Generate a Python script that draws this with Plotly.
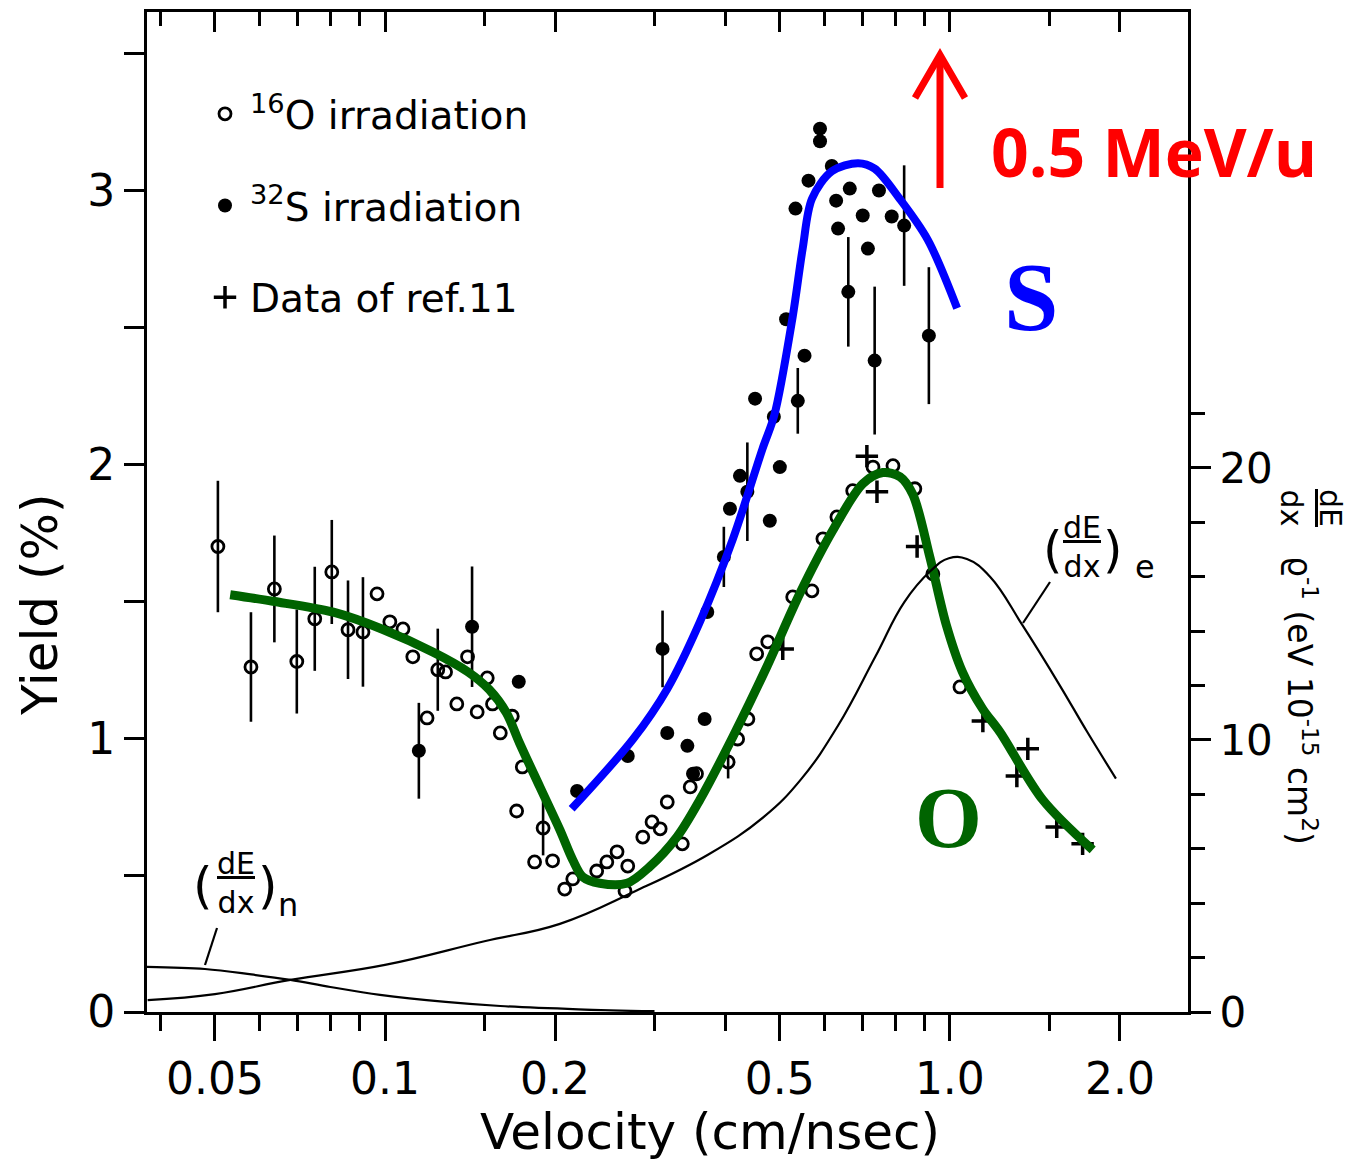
import numpy as np
import plotly.graph_objects as go

# ---------------- data ----------------
# 16O irradiation (open circles): velocity (cm/nsec), yield (%), error
o16_v = [0.0506, 0.0579, 0.0637, 0.0698, 0.0751, 0.0805, 0.086, 0.0914, 0.0968, 0.102,
         0.1076, 0.112, 0.1187, 0.124, 0.128, 0.134, 0.140, 0.1456, 0.1517, 0.155,
         0.160, 0.168, 0.175, 0.171, 0.1905, 0.184, 0.198, 0.208, 0.215, 0.237,
         0.247, 0.2575, 0.269, 0.266, 0.286, 0.297, 0.307, 0.336, 0.316, 0.347,
         0.356, 0.405, 0.421, 0.439, 0.455, 0.476, 0.527, 0.570, 0.596, 0.631,
         0.673, 0.731, 0.793, 0.867, 0.933, 1.042]
o16_y = [1.70, 1.26, 1.545, 1.28, 1.436, 1.607, 1.396, 1.388, 1.527, 1.425,
         1.399, 1.297, 1.074, 1.25, 1.242, 1.125, 1.297, 1.096, 1.22, 1.125,
         1.019, 1.08, 0.895, 0.734, 0.672, 0.548, 0.552, 0.449, 0.486, 0.515,
         0.548, 0.585, 0.533, 0.442, 0.639, 0.694, 0.669, 0.614, 0.767, 0.822,
         0.87, 0.913, 0.997, 1.07, 1.308, 1.352, 1.516, 1.538, 1.728, 1.808,
         1.904, 1.99, 1.995, 1.911, 1.60, 1.187]
o16_err = [0.24, 0.20, 0.195, 0.19, 0.19, 0.19, 0.18, 0.20, 0, 0,
           0, 0, 0, 0.15, 0, 0, 0, 0, 0, 0,
           0, 0, 0, 0, 0.10, 0, 0, 0, 0, 0,
           0, 0, 0, 0, 0, 0, 0, 0, 0, 0,
           0, 0.06, 0, 0, 0, 0, 0, 0, 0, 0,
           0, 0, 0, 0, 0, 0]

# 32S irradiation (filled circles)
s32_v = [0.1148, 0.1426, 0.1725, 0.2188, 0.269, 0.310, 0.316, 0.343, 0.351, 0.368,
         0.372, 0.398, 0.408, 0.425, 0.438, 0.452, 0.488, 0.500, 0.480, 0.513,
         0.538, 0.553, 0.533, 0.562, 0.589, 0.589, 0.618, 0.629, 0.634, 0.661,
         0.665, 0.701, 0.716, 0.736, 0.749, 0.789, 0.830, 0.918]
s32_y = [0.954, 1.407, 1.206, 0.807, 0.935, 1.326, 1.019, 0.972, 0.87, 1.07,
         1.461, 1.662, 1.838, 1.958, 1.90, 2.24, 2.174, 1.99, 1.794, 2.53,
         2.232, 2.397, 2.934, 3.036, 3.226, 3.18, 3.09, 2.963, 2.861, 2.63,
         3.007, 2.909, 2.788, 2.379, 3.0, 2.905, 2.872, 2.47]
s32_err = [0.175, 0.22, 0, 0, 0, 0.14, 0, 0, 0, 0,
           0, 0.11, 0, 0, 0.18, 0, 0, 0, 0, 0,
           0.12, 0, 0, 0, 0, 0, 0, 0, 0, 0.20,
           0, 0, 0, 0.27, 0, 0, 0.22, 0.25]

# Data of ref. 11 (plus signs)
ref11_v = [0.506, 0.713, 0.743, 0.875, 1.144, 1.314, 1.374, 1.546, 1.718]
ref11_y = [1.326, 2.03, 1.90, 1.70, 1.063, 0.862, 0.961, 0.676, 0.614]

# hand-drawn fit for O (green)
fitO_v = [0.0532, 0.0633, 0.081, 0.0992, 0.122, 0.140, 0.153, 0.164, 0.173, 0.188,
          0.204, 0.215, 0.224, 0.240, 0.268, 0.294, 0.329, 0.361, 0.413, 0.474,
          0.543, 0.621, 0.702, 0.761, 0.816, 0.860, 0.922, 0.985, 1.052, 1.143,
          1.226, 1.46, 1.79]
fitO_y = [1.524, 1.50, 1.46, 1.397, 1.313, 1.243, 1.177, 1.093, 0.983, 0.822,
          0.665, 0.555, 0.493, 0.47, 0.47, 0.53, 0.64, 0.775, 1.005, 1.26,
          1.53, 1.76, 1.93, 1.97, 1.955, 1.89, 1.66, 1.415, 1.243, 1.107,
          1.023, 0.775, 0.592]

# hand-drawn fit for S (blue)
fitS_v = [0.214, 0.275, 0.316, 0.361, 0.413, 0.466, 0.489, 0.527, 0.549, 0.570,
          0.618, 0.688, 0.736, 0.815, 0.914, 1.03]
fitS_y = [0.742, 0.997, 1.18, 1.425, 1.728, 2.057, 2.18, 2.54, 2.79, 2.97,
          3.07, 3.10, 3.08, 2.97, 2.82, 2.57]

# stopping powers (right axis, eV 1e-15 cm^2)
dedx_e_v = [0.038, 0.05, 0.068, 0.1, 0.15, 0.204, 0.276, 0.373, 0.469, 0.545,
            0.634, 0.737, 0.83, 0.923, 0.996, 1.072, 1.178, 1.346, 1.566, 1.75, 1.968]
dedx_e = [0.44, 0.66, 1.18, 1.73, 2.6, 3.24, 4.42, 5.78, 7.18, 8.55,
          10.53, 13.04, 15.06, 16.2, 16.68, 16.65, 16.0, 14.2, 12.0, 10.3, 8.58]
dedx_n_v = [0.0379, 0.048, 0.058, 0.068, 0.08, 0.098, 0.128, 0.16, 0.22, 0.3]
dedx_n = [1.66, 1.58, 1.38, 1.18, 0.92, 0.63, 0.37, 0.22, 0.1, 0.03]

# ticks
x_tickvals = [0.05, 0.1, 0.2, 0.5, 1.0, 2.0]
x_ticktext = ["0.05", "0.1", "0.2", "0.5", "1.0", "2.0"]
x_minor = [0.04, 0.06, 0.07, 0.08, 0.09, 0.15, 0.3, 0.4, 0.6, 0.7, 0.8, 0.9, 1.5]
y_tickvals = [0, 1, 2, 3]
y_minor = [0.5, 1.5, 2.5, 3.5]
y2_tickvals = [0, 10, 20]
y2_minor = [2, 4, 6, 8, 12, 14, 16, 18, 22]

# ---------------- layout geometry (page pixels) ----------------
OFF = 8                      # default page body margin
W, H = 1359 - 2 * OFF, 1172 - 2 * OFF
L, R, T, B = 147, 1188, 12, 1012
XR = [np.log10(0.0379), np.log10(2.64)]
YR = [0, 3.652]
Y2R = [0, 36.76]


def P(px, py):
    return (px - L) / (R - L), (B - py) / (B - T)


FONT = "DejaVu Sans"
BLACK = "black"

fig = go.Figure()

# stopping power curves (thin black)
fig.add_trace(go.Scatter(x=dedx_e_v, y=dedx_e, yaxis="y2", mode="lines",
                         line=dict(color=BLACK, width=2.2, shape="spline", smoothing=1.2),
                         showlegend=False, hoverinfo="skip"))
fig.add_trace(go.Scatter(x=dedx_n_v, y=dedx_n, yaxis="y2", mode="lines",
                         line=dict(color=BLACK, width=2.2, shape="spline", smoothing=1.0),
                         showlegend=False, hoverinfo="skip"))

# data
fig.add_trace(go.Scatter(x=o16_v, y=o16_y, mode="markers", name="<sup>16</sup>O irradiation",
                         legendgroup="a",
                         marker=dict(symbol="circle-open", size=12, color=BLACK,
                                     line=dict(width=2.8, color=BLACK)),
                         error_y=dict(type="data", array=o16_err, visible=True,
                                      color=BLACK, thickness=2.6, width=0)))
fig.add_trace(go.Scatter(x=s32_v, y=s32_y, mode="markers", name="<sup>32</sup>S irradiation",
                         legendgroup="b",
                         marker=dict(symbol="circle", size=14, color=BLACK),
                         error_y=dict(type="data", array=s32_err, visible=True,
                                      color=BLACK, thickness=2.6, width=0)))
fig.add_trace(go.Scatter(x=ref11_v, y=ref11_y, mode="markers", name="Data of ref.11",
                         legendgroup="c",
                         marker=dict(symbol="cross-thin", size=16, color=BLACK,
                                     line=dict(width=3.5, color=BLACK))))

# hand-drawn fits
fig.add_trace(go.Scatter(x=fitS_v, y=fitS_y, mode="lines", showlegend=False,
                         line=dict(color="#0000ff", width=8, shape="spline", smoothing=0.9),
                         hoverinfo="skip"))
fig.add_trace(go.Scatter(x=fitO_v, y=fitO_y, mode="lines", showlegend=False,
                         line=dict(color="#006400", width=9, shape="spline", smoothing=0.9),
                         hoverinfo="skip"))

# empty trace to anchor the top axis
fig.add_trace(go.Scatter(x=[], y=[], xaxis="x2", showlegend=False, hoverinfo="skip"))

tickfont = dict(family=FONT, size=44, color=BLACK)

fig.update_layout(
    width=W, height=H,
    margin=dict(l=L - OFF, r=W - (R - OFF), t=T - OFF, b=H - (B - OFF), pad=0),
    paper_bgcolor="white", plot_bgcolor="white",
    font=dict(family=FONT, color=BLACK),
    xaxis=dict(type="log", range=XR, tickmode="array", tickvals=x_tickvals, ticktext=x_ticktext,
               ticks="outside", ticklen=26, tickwidth=3, tickcolor=BLACK,
               showline=True, linewidth=3, linecolor=BLACK, showgrid=False, zeroline=False,
               tickfont=tickfont,
               minor=dict(tickmode="array", tickvals=x_minor, ticks="outside", ticklen=16,
                          tickwidth=3, tickcolor=BLACK, showgrid=False)),
    xaxis2=dict(type="log", range=XR, overlaying="x", side="top", tickmode="array",
                tickvals=x_tickvals, showticklabels=False, ticks="inside", ticklen=20,
                tickwidth=3, tickcolor=BLACK, showline=True, linewidth=3, linecolor=BLACK,
                showgrid=False, zeroline=False,
                minor=dict(tickmode="array", tickvals=x_minor, ticks="inside", ticklen=14,
                           tickwidth=3, tickcolor=BLACK, showgrid=False)),
    yaxis=dict(range=YR, tickmode="array", tickvals=y_tickvals, ticks="outside", ticklen=20,
               tickwidth=3, tickcolor=BLACK, showline=True, linewidth=3, linecolor=BLACK,
               showgrid=False, zeroline=False, tickfont=tickfont,
               minor=dict(tickmode="array", tickvals=y_minor, ticks="outside", ticklen=20,
                          tickwidth=3, tickcolor=BLACK, showgrid=False)),
    yaxis2=dict(range=Y2R, overlaying="y", side="right", tickmode="array",
                tickvals=y2_tickvals, ticks="outside", ticklen=20, tickwidth=3, tickcolor=BLACK,
                showline=True, linewidth=3, linecolor=BLACK, showgrid=False, zeroline=False,
                tickfont=dict(family=FONT, size=42, color=BLACK),
                minor=dict(tickmode="array", tickvals=y2_minor, ticks="outside", ticklen=14,
                           tickwidth=3, tickcolor=BLACK, showgrid=False)),
    showlegend=True,
    legend=dict(x=P(200, 0)[0], y=P(0, 82)[1], xanchor="left", yanchor="top",
                bgcolor="rgba(0,0,0,0)", font=dict(family=FONT, size=39, color=BLACK),
                tracegroupgap=38, itemwidth=40),
)

ann = []
shapes = []


def text(px, py, s, size, color=BLACK, family=FONT, angle=0, xanchor="center", yanchor="middle"):
    x, y = P(px, py)
    ann.append(dict(x=x, y=y, xref="paper", yref="paper", text=s, showarrow=False,
                    textangle=angle, xanchor=xanchor, yanchor=yanchor,
                    font=dict(family=family, size=size, color=color)))


def seg(p1, p2, color=BLACK, width=2.2):
    x0, y0 = P(*p1)
    x1, y1 = P(*p2)
    shapes.append(dict(type="line", xref="paper", yref="paper", x0=x0, y0=y0, x1=x1, y1=y1,
                       line=dict(color=color, width=width)))


# axis titles
text(710, 1132, "Velocity (cm/nsec)", 50)
text(40, 605, "Yield (%)", 50, angle=-90)

# right axis title
text(1311, 508, "<u>dE</u><br>dx", 30, angle=90)
text(1302, 700, "ϱ<sup>-1</sup> (eV 10<sup>-15</sup> cm<sup>2</sup>)", 33, angle=90)

# (dE/dx)n label
text(203, 886, "(", 50)
text(236, 883, "<u>dE</u><br>dx", 30)
text(268, 886, ")", 50)
text(288, 905, "n", 32)
seg((217, 928), (205, 965))

# (dE/dx)e label
text(1053, 550, "(", 50)
text(1082, 547, "<u>dE</u><br>dx", 30)
text(1113, 550, ")", 50)
text(1145, 567, "e", 32)
seg((1050, 582), (1023, 623))

# red arrow and label
seg((940, 62), (940, 188), color="#ff0000", width=7)
ax0, ay0 = P(915, 98)
ax1, ay1 = P(940, 55)
ax2, ay2 = P(965, 98)
shapes.append(dict(type="path", xref="paper", yref="paper",
                   path=f"M {ax0} {ay0} L {ax1} {ay1} L {ax2} {ay2}",
                   line=dict(color="#ff0000", width=7)))
text(1154, 151, "<b>0.5 MeV/u</b>", 66, color="#ff0000", family="Open Sans")

# curve labels
text(1031, 297, "<b>S</b>", 98, color="#0000ff", family="Liberation Serif")
text(948, 818, "<b>O</b>", 86, color="#006400", family="Liberation Serif")

fig.update_layout(annotations=ann, shapes=shapes)

fig.write_html("out.html")
